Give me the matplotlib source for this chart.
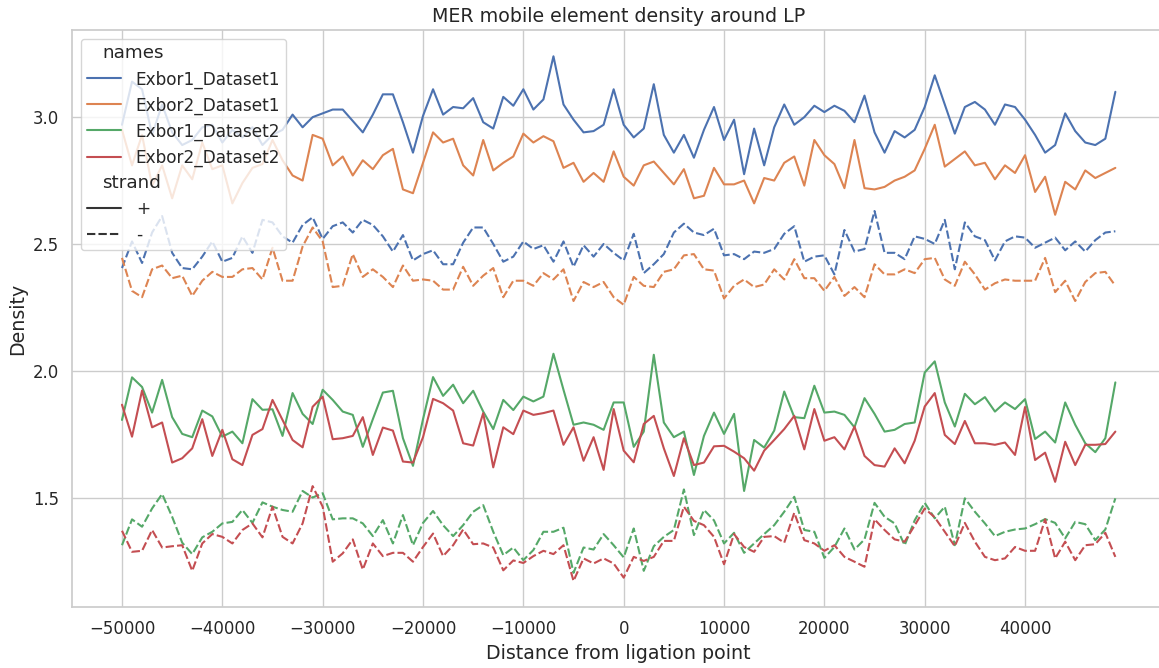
import numpy as np
import pandas as pd
import matplotlib
matplotlib.use("Agg")
import matplotlib.pyplot as plt
from matplotlib.offsetbox import VPacker
import seaborn as sns

# positions: -50000 .. 49000 step 1000
distance = list(range(-50000, 50000, 1000))
names = ["Exbor1_Dataset1", "Exbor2_Dataset1", "Exbor1_Dataset2", "Exbor2_Dataset2"]

exbor1_ds1_plus = [2.97, 3.14, 3.11, 2.93, 3.05, 2.94, 2.89, 2.91, 2.96, 2.97, 2.90, 2.95, 2.92, 2.96, 2.89, 2.93, 2.95, 3.01, 2.96,
                   3.00, 3.015, 3.03, 3.03, 2.985, 2.94, 3.01, 3.09, 3.09, 2.98, 2.86, 3.005, 3.11, 3.01, 3.04, 3.035, 3.075, 2.98, 2.955, 3.08, 3.045,
                   3.11, 3.03, 3.07, 3.24, 3.05, 2.99, 2.94, 2.945, 2.97, 3.11, 2.97, 2.92, 2.955, 3.13, 2.93, 2.86, 2.93, 2.84, 2.95, 3.04,
                   2.91, 2.99, 2.775, 2.955, 2.81, 2.96, 3.05, 2.97, 3.0, 3.045, 3.02, 3.045, 3.025, 2.98, 3.085, 2.94, 2.86, 2.945, 2.92, 2.95,
                   3.04, 3.165, 3.05, 2.935, 3.04, 3.06, 3.03, 2.97, 3.05, 3.04, 2.99, 2.93, 2.86, 2.89, 3.015, 2.945, 2.90, 2.89, 2.915, 3.10]
exbor2_ds1_plus = [2.95, 2.81, 2.93, 2.73, 2.81, 2.68, 2.81, 2.755, 2.90, 2.795, 2.81, 2.66, 2.74, 2.80, 2.815, 2.91, 2.83, 2.77, 2.75,
                   2.93, 2.915, 2.81, 2.845, 2.77, 2.83, 2.795, 2.85, 2.875, 2.715, 2.70, 2.82, 2.94, 2.90, 2.915, 2.81, 2.77, 2.91, 2.79, 2.82, 2.845,
                   2.935, 2.90, 2.925, 2.905, 2.80, 2.82, 2.745, 2.78, 2.745, 2.865, 2.765, 2.73, 2.81, 2.825, 2.78, 2.735, 2.795, 2.68, 2.69, 2.80,
                   2.735, 2.735, 2.75, 2.66, 2.76, 2.75, 2.82, 2.845, 2.73, 2.91, 2.85, 2.815, 2.72, 2.91, 2.72, 2.715, 2.725, 2.75, 2.765, 2.79,
                   2.875, 2.97, 2.805, 2.835, 2.865, 2.81, 2.82, 2.755, 2.81, 2.78, 2.85, 2.705, 2.765, 2.615, 2.745, 2.715, 2.79, 2.76, 2.78, 2.80]
exbor1_ds1_minus = [2.405, 2.51, 2.425, 2.545, 2.61, 2.465, 2.405, 2.40, 2.45, 2.51, 2.43, 2.445, 2.53, 2.465, 2.595, 2.585, 2.53, 2.505, 2.575, 2.605,
                    2.52, 2.57, 2.585, 2.545, 2.595, 2.575, 2.53, 2.47, 2.535, 2.435, 2.46, 2.475, 2.42, 2.42, 2.505, 2.565, 2.565, 2.50, 2.43, 2.45,
                    2.51, 2.48, 2.495, 2.43, 2.51, 2.41, 2.495, 2.45, 2.50, 2.465, 2.435, 2.54, 2.385, 2.42, 2.46, 2.545, 2.58, 2.545, 2.535, 2.56,
                    2.455, 2.46, 2.44, 2.47, 2.465, 2.48, 2.54, 2.57, 2.43, 2.45, 2.455, 2.38, 2.555, 2.47, 2.48, 2.63, 2.465, 2.465, 2.44, 2.53,
                    2.52, 2.50, 2.595, 2.40, 2.585, 2.53, 2.515, 2.435, 2.51, 2.53, 2.525, 2.485, 2.505, 2.525, 2.475, 2.51, 2.47, 2.515, 2.545, 2.55]
exbor2_ds1_minus = [2.445, 2.315, 2.29, 2.40, 2.415, 2.365, 2.375, 2.295, 2.355, 2.39, 2.37, 2.37, 2.40, 2.405, 2.36, 2.485, 2.355, 2.355, 2.49, 2.565,
                    2.51, 2.33, 2.335, 2.46, 2.37, 2.40, 2.37, 2.33, 2.415, 2.355, 2.36, 2.355, 2.32, 2.32, 2.41, 2.335, 2.375, 2.405, 2.29, 2.355,
                    2.355, 2.335, 2.385, 2.36, 2.40, 2.275, 2.35, 2.33, 2.35, 2.29, 2.26, 2.37, 2.335, 2.33, 2.39, 2.40, 2.455, 2.46, 2.40, 2.395,
                    2.285, 2.335, 2.36, 2.33, 2.34, 2.40, 2.36, 2.44, 2.365, 2.365, 2.315, 2.37, 2.295, 2.33, 2.29, 2.42, 2.38, 2.38, 2.40, 2.385,
                    2.44, 2.445, 2.36, 2.335, 2.43, 2.38, 2.32, 2.345, 2.36, 2.355, 2.355, 2.355, 2.445, 2.31, 2.355, 2.275, 2.35, 2.385, 2.39, 2.335]
exbor1_ds2_plus = [1.806, 1.974, 1.936, 1.835, 1.964, 1.817, 1.751, 1.738, 1.843, 1.82, 1.74, 1.76, 1.714, 1.888, 1.846, 1.848, 1.743, 1.912, 1.83, 1.79,
                   1.925, 1.885, 1.839, 1.826, 1.70, 1.809, 1.914, 1.921, 1.734, 1.625, 1.809, 1.975, 1.901, 1.945, 1.872, 1.921, 1.839, 1.77, 1.885, 1.845,
                   1.898, 1.879, 1.898, 2.067, 1.925, 1.787, 1.796, 1.787, 1.767, 1.875, 1.875, 1.70, 1.76, 2.063, 1.796, 1.738, 1.76, 1.589, 1.743, 1.835,
                   1.751, 1.83, 1.526, 1.727, 1.697, 1.764, 1.918, 1.817, 1.813, 1.941, 1.835, 1.839, 1.826, 1.777, 1.892, 1.83, 1.76, 1.767, 1.79, 1.796,
                   1.993, 2.037, 1.875, 1.78, 1.909, 1.868, 1.896, 1.839, 1.875, 1.849, 1.888, 1.731, 1.76, 1.717, 1.875, 1.787, 1.714, 1.679, 1.734, 1.954]
exbor2_ds2_plus = [1.866, 1.74, 1.922, 1.777, 1.796, 1.638, 1.655, 1.694, 1.809, 1.664, 1.767, 1.651, 1.628, 1.747, 1.77, 1.885, 1.806, 1.727, 1.698, 1.858,
                   1.898, 1.73, 1.734, 1.743, 1.817, 1.668, 1.776, 1.764, 1.642, 1.638, 1.738, 1.889, 1.872, 1.843, 1.714, 1.705, 1.833, 1.619, 1.777, 1.75,
                   1.843, 1.826, 1.833, 1.843, 1.708, 1.777, 1.645, 1.738, 1.609, 1.849, 1.685, 1.639, 1.79, 1.822, 1.694, 1.585, 1.734, 1.628, 1.638, 1.702,
                   1.704, 1.681, 1.655, 1.606, 1.685, 1.727, 1.77, 1.822, 1.69, 1.849, 1.724, 1.738, 1.69, 1.78, 1.664, 1.628, 1.622, 1.694, 1.635, 1.724,
                   1.859, 1.912, 1.747, 1.711, 1.802, 1.714, 1.714, 1.708, 1.717, 1.668, 1.857, 1.648, 1.677, 1.562, 1.72, 1.628, 1.708, 1.708, 1.711, 1.76]
exbor1_ds2_minus = [1.312, 1.414, 1.385, 1.457, 1.514, 1.424, 1.322, 1.277, 1.343, 1.365, 1.398, 1.404, 1.451, 1.40, 1.481, 1.464, 1.451, 1.444, 1.526, 1.50,
                    1.517, 1.414, 1.418, 1.418, 1.398, 1.348, 1.411, 1.319, 1.431, 1.312, 1.40, 1.447, 1.391, 1.348, 1.391, 1.444, 1.47, 1.365, 1.273, 1.303,
                    1.253, 1.293, 1.365, 1.365, 1.381, 1.203, 1.303, 1.295, 1.356, 1.312, 1.264, 1.378, 1.211, 1.308, 1.345, 1.372, 1.532, 1.352, 1.451, 1.41,
                    1.319, 1.361, 1.282, 1.319, 1.356, 1.391, 1.444, 1.503, 1.372, 1.365, 1.262, 1.305, 1.378, 1.295, 1.335, 1.479, 1.424, 1.398, 1.312, 1.41,
                    1.479, 1.418, 1.464, 1.312, 1.497, 1.444, 1.398, 1.348, 1.365, 1.374, 1.378, 1.395, 1.415, 1.40, 1.339, 1.404, 1.395, 1.332, 1.374, 1.497]
exbor2_ds2_minus = [1.369, 1.286, 1.29, 1.372, 1.303, 1.308, 1.312, 1.211, 1.319, 1.356, 1.345, 1.319, 1.372, 1.398, 1.343, 1.464, 1.345, 1.319, 1.398, 1.545,
                    1.464, 1.247, 1.28, 1.335, 1.216, 1.319, 1.269, 1.282, 1.282, 1.247, 1.305, 1.358, 1.269, 1.312, 1.374, 1.316, 1.319, 1.303, 1.213, 1.252,
                    1.242, 1.269, 1.29, 1.277, 1.312, 1.171, 1.26, 1.24, 1.26, 1.24, 1.184, 1.266, 1.25, 1.266, 1.329, 1.329, 1.464, 1.408, 1.391, 1.345,
                    1.237, 1.356, 1.305, 1.286, 1.345, 1.348, 1.322, 1.44, 1.332, 1.319, 1.29, 1.312, 1.266, 1.247, 1.227, 1.414, 1.372, 1.335, 1.326, 1.39,
                    1.457, 1.422, 1.365, 1.308, 1.40, 1.326, 1.266, 1.253, 1.26, 1.305, 1.29, 1.29, 1.414, 1.26, 1.326, 1.253, 1.312, 1.316, 1.361, 1.266]

# long table for seaborn
series = [
    (names[0], "+", exbor1_ds1_plus), (names[1], "+", exbor2_ds1_plus),
    (names[0], "-", exbor1_ds1_minus), (names[1], "-", exbor2_ds1_minus),
    (names[2], "+", exbor1_ds2_plus), (names[3], "+", exbor2_ds2_plus),
    (names[2], "-", exbor1_ds2_minus), (names[3], "-", exbor2_ds2_minus),
]
frames = []
for nm, st, vals in series:
    frames.append(pd.DataFrame({"Distance from ligation point": distance,
                                "Density": vals, "names": nm, "strand": st}))
df = pd.concat(frames, ignore_index=True)

sns.set_theme(style="whitegrid", font_scale=1.08)
plt.rcParams["axes.labelsize"] = 13.7
plt.rcParams["axes.titlesize"] = 13.7

fig, ax = plt.subplots(figsize=(11.59, 6.68), dpi=100)
sns.lineplot(data=df, x="Distance from ligation point", y="Density",
             hue="names", style="strand", hue_order=names,
             style_order=["+", "-"], ax=ax)
ax.set_title("MER mobile element density around LP")
ax.set_xticks(range(-50000, 50000, 10000))

# rebuild legend, subtitles pulled left like seaborn does
old = ax.get_legend()
handles = old.legend_handles
labels = [t.get_text() for t in old.get_texts()]
old.remove()
leg = ax.legend(handles, labels, loc="upper left", fontsize=12.2,
                handlelength=2.0, handletextpad=0.9, borderpad=0.35,
                labelspacing=0.46)
subtitles = ["names", "strand"]
rows = leg.findobj(VPacker)[0].get_children()
for row in rows:
    draw_area, text_area = row.get_children()
    txt = text_area.get_children()[0]
    if txt.get_text() in subtitles:
        draw_area.set_width(0)
        for h in draw_area.get_children():
            h.set_visible(False)
        txt.set_fontsize(13.2)

plt.subplots_adjust(left=0.0624, right=1.0052, top=0.955, bottom=0.091)
plt.savefig("out.png")
